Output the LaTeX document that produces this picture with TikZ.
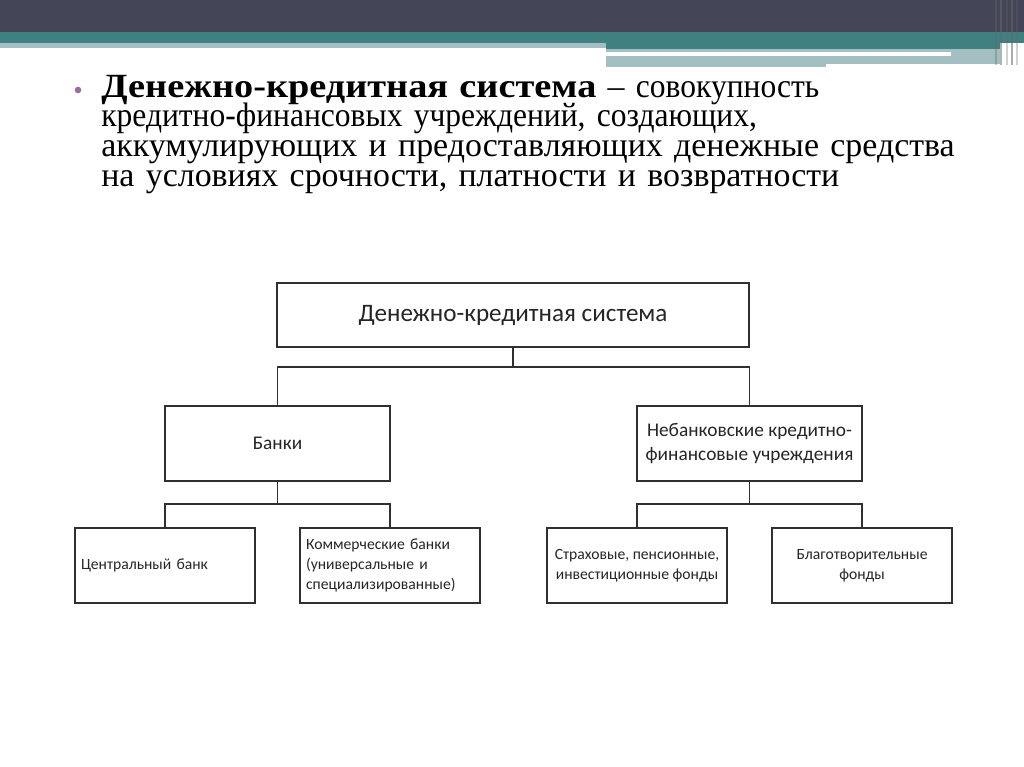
\documentclass[tikz,border=0pt]{standalone}
\usepackage{fontspec}
\setmainfont{Liberation Serif}
\newfontfamily\boxfont{Carlito}
\usetikzlibrary{positioning,calc}
\definecolor{bandDark}{HTML}{444658}
\definecolor{bandTeal}{HTML}{3F8181}
\definecolor{bandLight}{HTML}{A3BFC1}
\definecolor{bulletPurple}{HTML}{9A6C9E}
\definecolor{lineGray}{HTML}{303030}
\newcommand\deffont{\fontsize{19.3pt}{17pt}\selectfont\lineskiplimit=-30pt\relax}
\newcommand\deftitle[1]{{\bfseries\addfontfeature{FakeStretch=1.13}#1}}
\newcommand\narrowline[1]{{\addfontfeature{FakeStretch=0.93}#1}}
\tikzset{
	orgbox/.style={draw=lineGray,line width=1.1pt,fill=white,inner sep=0.12cm,font=\boxfont,text=black!85},
	bigbox/.style={orgbox,minimum width=9.44cm,minimum height=1.28cm,font=\boxfont\fontsize{14.3pt}{16pt}\selectfont},
	midbox/.style={orgbox,minimum width=4.5cm,minimum height=1.5cm,align=center,font=\boxfont\fontsize{11pt}{13.6pt}\selectfont},
	leafbox/.style={orgbox,minimum width=3.6cm,minimum height=1.5cm,align=center,font=\boxfont\fontsize{8.9pt}{11.3pt}\selectfont},
	leafleft/.style={leafbox,text width=3.36cm,align=left},
	link/.style={draw=lineGray,line width=1.1pt}
}
\begin{document}
\begin{tikzpicture}[x=0.02cm,y=-0.02cm]
	\useasboundingbox (0,0) rectangle (1024,767);
	%%%% header bands
	\fill[bandDark] (0,0) rectangle (1024,32);
	\fill[bandTeal] (0,32) rectangle (1024,43);
	\fill[bandLight] (0,43) rectangle (606,48);
	\fill[bandTeal] (606,43) rectangle (1000,49);
	\fill[bandLight] (606,49) rectangle (1000,67);
	\fill[white] (606,52) rectangle (951,56);
	\fill[white] (826,64) rectangle (1000,67);
	\foreach \x/\o in {995/0.35,1000/0.5,1006/0.3,1011/0.55,1016/0.3}
		\fill[black!60,opacity=\o] (\x,0) rectangle ++(2,65);
	
	%%%% definition text
	\fill[bulletPurple] (78,90) circle (3.3);
	\node[anchor=base west,text width=18cm,align=left,inner sep=0pt,font=\deffont] (deftext) at (101,97)
		{\deftitle{Денежно-кредитная система} – \narrowline{совокупность}\\
		 \narrowline{кредитно-финансовых учреждений, создающих,}\\
		 аккумулирующих и предоставляющих денежные средства\\
		 на условиях срочности, платности и возвратности};
	
	%%%% top level
	\node[bigbox] (sys) at (513,315) {Денежно-кредитная система};
	
	%%%% second level
	\node[midbox] (banks) at (277.5,443.5) {Банки};
	\node[midbox] (nonbank) at (749.5,443.5) {Небанковские кредитно-\\финансовые учреждения};
	\coordinate (jtop) at (513,367);
	\draw[link] (sys) -- (jtop);
	\draw[link] (banks.north) |- (jtop) -| (nonbank.north);
	
	%%%% third level, banks
	\node[leafleft] (cb) at (165,565.5) {Центральный банк};
	\node[leafleft] (comm) at (390,565.5) {Коммерческие банки\\(универсальные и\\специализированные)};
	\coordinate (jleft) at (277.5,504);
	\draw[link] (banks) -- (jleft);
	\draw[link] (cb.north) |- (jleft) -| (comm.north);
	
	%%%% third level, non-banks
	\node[leafbox] (funds) at (637,565.5) {Страховые, пенсионные,\\инвестиционные фонды};
	\node[leafbox] (charity) at (862,565.5) {Благотворительные\\фонды};
	\coordinate (jright) at (749.5,504);
	\draw[link] (nonbank) -- (jright);
	\draw[link] (funds.north) |- (jright) -| (charity.north);
\end{tikzpicture}
\end{document}
